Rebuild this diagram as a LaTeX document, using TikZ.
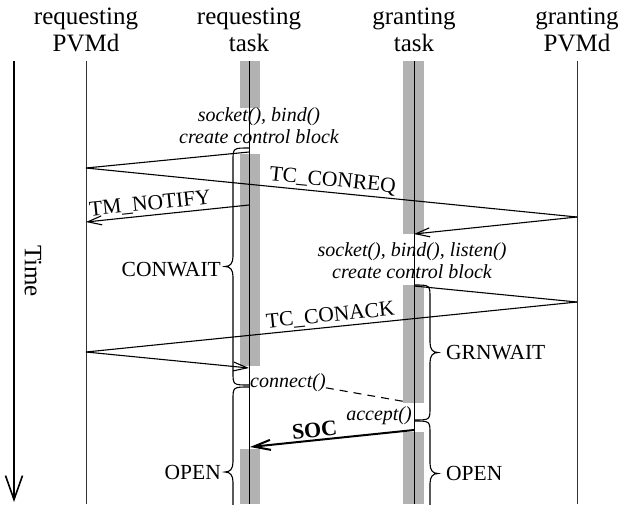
\documentclass[tikz,border=0pt]{standalone}
\usepackage{fontspec}
\setmainfont{Liberation Serif}
\usetikzlibrary{arrows.meta}
% custom brace: #1 lifeline x, #2 top y, #3 bottom y, #4 direction (-1 left, +1 right)
\newcommand\seqbrace[4]{%
  \pgfmathsetmacro\sbm{(#2+#3)/2}%
  \pgfmathsetmacro\sbs{#1+#4*16}%
  \pgfmathsetmacro\sbt{#1+#4*24}%
  \pgfmathsetmacro\sbn{#1+#4*19}%
  \draw[bracestyle] (#1,#2) .. controls (\sbs,#2) and (\sbs,#2) .. (\sbs,#2+13)
    -- (\sbs,\sbm-10) .. controls (\sbs,\sbm-3) and (\sbn,\sbm) .. (\sbt,\sbm)
    .. controls (\sbn,\sbm) and (\sbs,\sbm+3) .. (\sbs,\sbm+10)
    -- (\sbs,#3-13) .. controls (\sbs,#3) and (\sbs,#3) .. (#1,#3);%
}
\begin{document}
\begin{tikzpicture}[x=1pt,y=-1pt,
  hdr/.style={font=\fontsize{25}{27}\selectfont, align=center, inner sep=0pt},
  lbl/.style={font=\fontsize{21.5}{24}\selectfont, inner sep=2pt},
  ital/.style={font=\fontsize{20}{22}\selectfont\itshape, inner sep=0pt},
  life/.style={line width=1pt, black!80},
  tlife/.style={line width=1pt, black},
  msg/.style={line width=1.1pt},
  arr/.style={-{Straight Barb[length=14pt,width=9pt]}},
  bar/.style={fill=black!30, draw=none},
  bracestyle/.style={line width=1.1pt},
]
\useasboundingbox (0,0) rectangle (618,504);
\clip (0,0) rectangle (618,504);

% headers
\node[hdr] (rp) at (86,30) {requesting\\PVMd};
\node[hdr] (rt) at (249,30) {requesting\\task};
\node[hdr] (gt) at (414,30) {granting\\task};
\node[hdr] (gp) at (577,30) {granting\\PVMd};

% activity bars
\fill[bar] (240,61) rectangle (260,108);
\fill[bar] (240,154) rectangle (260,366);
\fill[bar] (240,449) rectangle (260,504);
\fill[bar] (403,61) rectangle (424,234);
\fill[bar] (403,285) rectangle (424,403);
\fill[bar] (403,432) rectangle (424,504);

% lifelines
\draw[life] (86,61) -- (86,504);
\draw[tlife] (249,61) -- (249,504);
\draw[tlife] (414,61) -- (414,504);
\draw[life] (577,61) -- (577,504);

% time axis
\draw[line width=1.6pt, -{Straight Barb[length=24pt,width=17pt]}] (14,61) -- (14,502);
\node[font=\fontsize{25}{27}\selectfont, rotate=-90, inner sep=0pt] (time) at (33,271) {Time};

% endpoints
\coordinate (rt1) at (249,152);
\coordinate (rp1) at (86,168);
\coordinate (gp1) at (577,217);
\coordinate (gt1) at (414,234);
\coordinate (rt2) at (249,205);
\coordinate (rp2) at (86,222);
\coordinate (gt3) at (414,286);
\coordinate (gp3) at (577,302);
\coordinate (rp3) at (86,352);
\coordinate (rt3) at (249,368);
\coordinate (gtd) at (407,402);
\coordinate (gt4) at (414,430);
\coordinate (rt4) at (250,447);

% italic notes
\node[ital, align=center] (sb1) at (259,126) {socket(), bind()\\create control block};
\node[ital, align=center] (sb2) at (412,261) {socket(), bind(), listen()\\create control block};

% messages
\draw[msg] (rt1) -- (rp1);
\draw[msg] (rp1) -- (gp1) node[lbl, midway, above, sloped] {TC\_CONREQ};
\draw[msg, arr] (gp1) -- (gt1);
\draw[msg, {Straight Barb[length=14pt,width=9pt]}-] (rp2) -- (rt2) node[lbl, pos=0.4, above, sloped] {TM\_NOTIFY};
\draw[msg] (gt3) -- (gp3);
\draw[msg] (rp3) -- (gp3) node[lbl, midway, above, sloped] {TC\_CONACK};
\draw[msg, arr] (rp3) -- (rt3);

\node[ital, anchor=west] (con) at (250,383) {connect()};
\draw[msg, dash pattern=on 8pt off 6pt] (con.base east) -- (gtd);
\node[ital, anchor=east] (acc) at (412,416) {accept()};

\draw[line width=2pt, {Straight Barb[length=17pt,width=10pt]}-] (rt4) -- (gt4)
  node[pos=0.4, above, sloped, inner sep=2pt, font=\fontsize{22}{24}\selectfont\bfseries] (soc) {SOC};

% braces
\seqbrace{249}{148}{385}{-1}
\seqbrace{249}{387}{557}{-1}
\seqbrace{414}{285}{420}{1}
\seqbrace{414}{421}{526}{1}

% state labels
\node[lbl, anchor=east, inner sep=0pt] (cw) at (221,270) {CONWAIT};
\node[lbl, anchor=east, inner sep=0pt] (op1) at (221,472) {OPEN};
\node[lbl, anchor=west, inner sep=0pt] (gw) at (446,353) {GRNWAIT};
\node[lbl, anchor=west, inner sep=0pt] (op2) at (446,473) {OPEN};
\end{tikzpicture}
\end{document}
